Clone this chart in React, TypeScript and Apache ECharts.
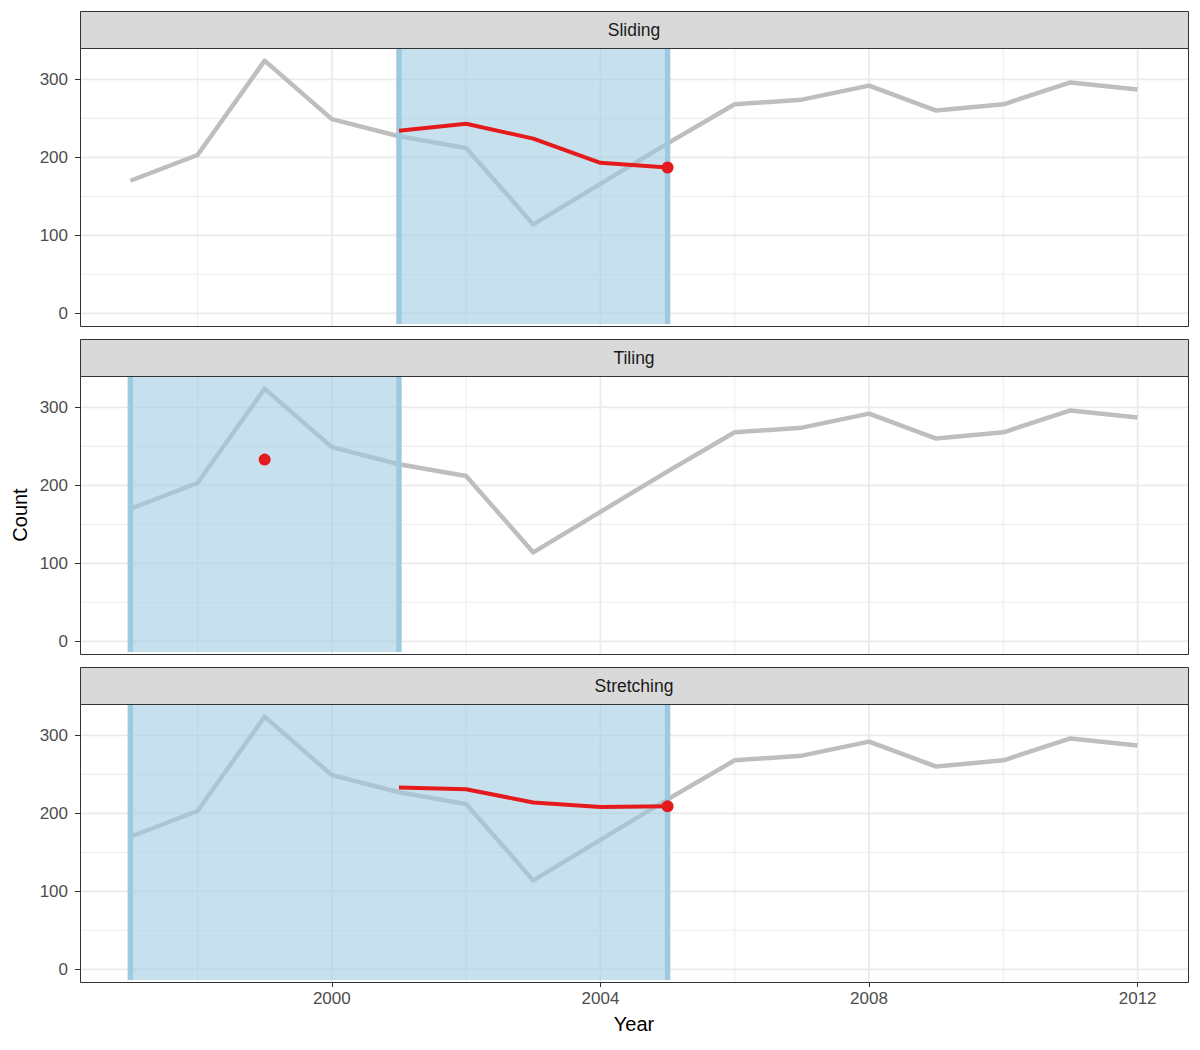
import React, { useEffect, useRef } from "react";
import * as echarts from "echarts";

// Yearly counts (grey reference line, identical in every panel)
const years = [1997, 1998, 1999, 2000, 2001, 2002, 2003, 2004, 2005, 2006, 2007, 2008, 2009, 2010, 2011, 2012];
const counts = [170, 203, 324, 249, 227, 212, 114, 166, 218, 268, 274, 292, 260, 268, 296, 287];

// Panel titles
const panelNames = ["Sliding", "Tiling", "Stretching"];

// Window estimates (red) per panel
const slidingYears = [2001, 2002, 2003, 2004, 2005];
const slidingValues = [234, 243, 224, 193, 187];
const tilingYears = [1999];
const tilingValues = [233];
const stretchingYears = [2001, 2002, 2003, 2004, 2005];
const stretchingValues = [233, 231, 214, 208, 209];

// Highlighted window [start, end] per panel
const slidingWindow = [2001, 2005];
const tilingWindow = [1997, 2001];
const stretchingWindow = [1997, 2005];

// Axis ticks
const xMajor = [2000, 2004, 2008, 2012];
const xMinor = [1998, 2002, 2006, 2010];
const yMajor = [0, 100, 200, 300];
const yMinor = [50, 150, 250];

const redYears = [slidingYears, tilingYears, stretchingYears];
const redValues = [slidingValues, tilingValues, stretchingValues];
const windows = [slidingWindow, tilingWindow, stretchingWindow];

// Axis ranges with 5% padding on each side
const xLo = Math.min(...years), xHi = Math.max(...years);
const xPad = (xHi - xLo) * 0.05;
const xMin = xLo - xPad, xMax = xHi + xPad;
const yLo = 0;
const yHi = Math.max(...counts, ...slidingValues, ...tilingValues, ...stretchingValues);
const yPad = (yHi - yLo) * 0.05;
const yMin = yLo - yPad, yMax = yHi + yPad;

const FONT = "'Liberation Sans', Arial, Helvetica, sans-serif";
const LEFT = 80;
const WIDTH = 1108;
const HEIGHT = 278;
const TOPS = [48, 376, 704];
const STRIP_H = 37;
const GREY = "#bebebe";
const RED = "#e41a1c";
const TICK_FONT = 17;

function buildOption() {
  const grid = TOPS.map((t) => ({ left: LEFT, top: t, width: WIDTH, height: HEIGHT, containLabel: false }));

  const xAxis = TOPS.map((_, i) => ({
    type: "value",
    gridIndex: i,
    min: xMin,
    max: xMax,
    axisLine: { show: false, onZero: false },
    splitLine: { show: false },
    axisTick: { show: i === 2, customValues: xMajor, length: 5, lineStyle: { color: "#333333", width: 1 } },
    axisLabel: {
      show: i === 2,
      customValues: xMajor,
      margin: 8,
      fontSize: TICK_FONT,
      color: "#4d4d4d",
      fontFamily: FONT,
      formatter: (v: number) => String(Math.round(v)),
    },
    name: i === 2 ? "Year" : "",
    nameLocation: "middle",
    nameGap: 32,
    nameTextStyle: { fontSize: 20, color: "#000000", fontFamily: FONT },
  }));

  const yAxis = TOPS.map((_, i) => ({
    type: "value",
    gridIndex: i,
    min: yMin,
    max: yMax,
    axisLine: { show: false, onZero: false },
    splitLine: { show: false },
    axisTick: { show: true, customValues: yMajor, length: 5, lineStyle: { color: "#333333", width: 1 } },
    axisLabel: {
      customValues: yMajor,
      margin: 12,
      fontSize: TICK_FONT,
      color: "#4d4d4d",
      fontFamily: FONT,
      formatter: (v: number) => String(Math.round(v)),
    },
  }));

  const series: any[] = [];
  TOPS.forEach((_, i) => {
    // grid lines: [x value, 0 = vertical / 1 = horizontal, 1 = major / 0 = minor, y value]
    const gridData = [
      ...xMajor.map((v) => [v, 0, 1, 0]),
      ...xMinor.map((v) => [v, 0, 0, 0]),
      ...yMajor.map((v) => [xMin, 1, 1, v]),
      ...yMinor.map((v) => [xMin, 1, 0, v]),
    ];
    series.push({
      type: "custom",
      xAxisIndex: i,
      yAxisIndex: i,
      z: 1,
      silent: true,
      dimensions: ["x", "kind", "major", "y"],
      encode: { x: 0, y: 3 },
      data: gridData,
      renderItem: (params: any, api: any) => {
        const cs = params.coordSys;
        const horizontal = api.value(1) === 1;
        const major = api.value(2) === 1;
        const style = { stroke: "#ebebeb", lineWidth: major ? 1.8 : 0.9 };
        if (horizontal) {
          const p = api.coord([xMin, api.value(3)]);
          return { type: "line", shape: { x1: cs.x, y1: p[1], x2: cs.x + cs.width, y2: p[1] }, style };
        }
        const p = api.coord([api.value(0), yMin]);
        return { type: "line", shape: { x1: p[0], y1: cs.y, x2: p[0], y2: cs.y + cs.height }, style };
      },
    });

    series.push({
      type: "line",
      xAxisIndex: i,
      yAxisIndex: i,
      z: 2,
      silent: true,
      symbol: "none",
      data: years.map((y, k) => [y, counts[k]]),
      lineStyle: { color: GREY, width: 4.5, join: "round" },
    });

    series.push({
      type: "custom",
      xAxisIndex: i,
      yAxisIndex: i,
      z: 3,
      silent: true,
      encode: { x: [0, 1] },
      data: [windows[i]],
      renderItem: (params: any, api: any) => {
        const cs = params.coordSys;
        const a = api.coord([api.value(0), yMax]);
        const b = api.coord([api.value(1), yMin]);
        const edge = { stroke: "#9ecae1", lineWidth: 5.5 };
        return {
          type: "group",
          children: [
            {
              type: "rect",
              shape: { x: a[0], y: cs.y, width: b[0] - a[0], height: cs.height - 2 },
              style: { fill: "rgba(158,202,225,0.58)" },
            },
            { type: "line", shape: { x1: a[0], y1: cs.y, x2: a[0], y2: cs.y + cs.height - 2 }, style: edge },
            { type: "line", shape: { x1: b[0], y1: cs.y, x2: b[0], y2: cs.y + cs.height - 2 }, style: edge },
          ],
        };
      },
    });

    const ry = redYears[i];
    const rv = redValues[i];
    series.push({
      type: "line",
      xAxisIndex: i,
      yAxisIndex: i,
      z: 4,
      silent: true,
      symbol: "none",
      data: ry.map((y, k) => [y, rv[k]]),
      lineStyle: { color: RED, width: 4, join: "round" },
    });
    series.push({
      type: "scatter",
      xAxisIndex: i,
      yAxisIndex: i,
      z: 5,
      silent: true,
      symbol: "circle",
      symbolSize: 12,
      itemStyle: { color: RED, opacity: 1 },
      data: [[ry[ry.length - 1], rv[rv.length - 1]]],
    });
  });

  const graphic: any[] = [];
  TOPS.forEach((t, i) => {
    graphic.push({
      type: "rect",
      z: 100,
      silent: true,
      shape: { x: LEFT + 0.5, y: t - STRIP_H + 0.5, width: WIDTH, height: STRIP_H },
      style: { fill: "#d9d9d9", stroke: "#333333", lineWidth: 1 },
    });
    graphic.push({
      type: "text",
      z: 101,
      silent: true,
      x: LEFT + WIDTH / 2,
      y: t - STRIP_H / 2 + 0.5,
      style: { text: panelNames[i], align: "center", verticalAlign: "middle", fontSize: 17.5, fontFamily: FONT, fill: "#1a1a1a" },
    });
    graphic.push({
      type: "rect",
      z: 100,
      silent: true,
      shape: { x: LEFT + 0.5, y: t + 0.5, width: WIDTH, height: HEIGHT },
      style: { fill: "none", stroke: "#333333", lineWidth: 1 },
    });
  });
  graphic.push({
    type: "text",
    z: 101,
    silent: true,
    x: 20,
    y: TOPS[1] + HEIGHT / 2,
    rotation: Math.PI / 2,
    style: { text: "Count", align: "center", verticalAlign: "middle", fontSize: 20, fontFamily: FONT, fill: "#000000" },
  });

  return {
    animation: false,
    backgroundColor: "#ffffff",
    textStyle: { fontFamily: FONT },
    grid,
    xAxis,
    yAxis,
    series,
    graphic,
  };
}

export default function App() {
  const ref = useRef<HTMLDivElement>(null);
  useEffect(() => {
    document.body.style.margin = "0";
    const chart = echarts.init(ref.current as HTMLDivElement, undefined, { renderer: "svg" });
    chart.setOption(buildOption() as any);
    return () => chart.dispose();
  }, []);
  return <div ref={ref} style={{ width: 1200, height: 1050 }} />;
}
